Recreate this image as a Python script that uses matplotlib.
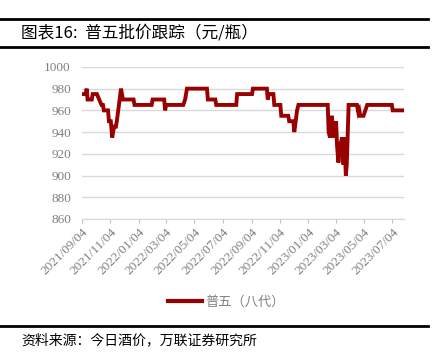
import pandas as pd
import matplotlib.pyplot as plt
import matplotlib.dates as mdates
from matplotlib.lines import Line2D

plt.rcParams['font.family'] = ['Noto Sans CJK SC', 'DejaVu Sans']

# 普五（八代）批价, 元/瓶
dates = ['2021-09-04', '2021-09-12', '2021-09-14', '2021-09-16', '2021-09-25', '2021-09-27',
         '2021-10-06', '2021-10-11', '2021-10-16', '2021-10-19', '2021-10-21', '2021-10-30',
         '2021-11-01', '2021-11-05', '2021-11-08', '2021-11-12', '2021-11-16', '2021-11-18',
         '2021-11-21', '2021-11-27', '2021-12-01', '2021-12-24', '2021-12-26', '2022-02-01',
         '2022-02-03', '2022-02-28', '2022-03-02', '2022-03-04', '2022-04-10', '2022-04-14',
         '2022-04-18', '2022-05-31', '2022-06-02', '2022-06-18', '2022-06-20', '2022-08-02',
         '2022-08-04', '2022-09-05', '2022-09-07', '2022-10-07', '2022-10-09', '2022-10-11',
         '2022-10-21', '2022-10-23', '2022-11-05', '2022-11-07', '2022-11-22', '2022-11-24',
         '2022-12-03', '2022-12-05', '2022-12-11', '2022-12-14', '2023-02-15', '2023-02-17',
         '2023-02-20', '2023-02-24', '2023-02-27', '2023-03-03', '2023-03-05', '2023-03-07',
         '2023-03-10', '2023-03-14', '2023-03-18', '2023-03-21', '2023-03-23', '2023-03-26',
         '2023-03-28', '2023-04-01', '2023-04-19', '2023-04-22', '2023-04-24', '2023-04-26',
         '2023-05-03', '2023-05-07', '2023-05-11', '2023-07-03', '2023-07-05', '2023-07-30']
prices = [975, 975, 980, 970, 970, 975,
          975, 970, 965, 965, 960, 960,
          950, 950, 935, 945, 945, 950,
          960, 980, 970, 970, 965, 965,
          970, 970, 960, 965, 965, 970,
          980, 980, 970, 970, 965, 965,
          975, 975, 980, 980, 970, 975,
          975, 965, 965, 955, 955, 950,
          950, 940, 960, 965, 965, 940,
          935, 955, 935, 945, 950, 928,
          912, 928, 935, 910, 935, 900,
          910, 965, 965, 958, 960, 955,
          955, 960, 965, 965, 960, 960]

tick_dates = ['2021-09-04', '2021-11-04', '2022-01-04', '2022-03-04', '2022-05-04', '2022-07-04',
              '2022-09-04', '2022-11-04', '2023-01-04', '2023-03-04', '2023-05-04', '2023-07-04']

df = pd.DataFrame({'date': pd.to_datetime(dates), 'price': prices})
ticks = pd.to_datetime(tick_dates)

fig = plt.figure(figsize=(4.35, 3.56), dpi=100)
ax = fig.add_axes([0.1885, 0.385, 0.74, 0.427])

ax.plot(df['date'], df['price'], color='#990000', linewidth=2.8, solid_joinstyle='miter')

ax.set_ylim(860, 1000)
ax.set_yticks(range(860, 1001, 20))
ax.set_xlim(pd.Timestamp('2021-09-04'), pd.Timestamp('2023-07-29'))
ax.set_xticks(ticks)
ax.xaxis.set_major_formatter(mdates.DateFormatter('%Y/%m/%d'))

ax.grid(axis='y', color='#d9d9d9', linewidth=1)
ax.set_axisbelow(True)
for s in ['top', 'right', 'left']:
    ax.spines[s].set_visible(False)
ax.spines['bottom'].set_color('#d9d9d9')
ax.tick_params(axis='y', length=0, pad=8, labelsize=9.5, labelcolor='#808080')
ax.tick_params(axis='x', length=3, color='#bfbfbf', labelsize=9.5, labelcolor='#808080', pad=2)
for lab in ax.get_yticklabels():
    lab.set_family('Liberation Serif')
for lab in ax.get_xticklabels():
    lab.set_family('Liberation Serif')
    lab.set_rotation(45)
    lab.set_ha('right')
    lab.set_rotation_mode('anchor')

handle = Line2D([], [], color='#990000', linewidth=3)
fig.legend([handle], ['普五（八代）'], loc='center', bbox_to_anchor=(0.52, 0.152),
           frameon=False, fontsize=9.5, labelcolor='#808080', handlelength=2.6, handletextpad=0.2)

# header / footer rules and texts
for y in [1 - 19 / 356, 1 - 47 / 356, 1 - 326 / 356]:
    fig.add_artist(Line2D([0, 0.985], [y, y], color='black', linewidth=2.0, transform=fig.transFigure))
fig.text(0.048, 1 - 33 / 356, '图表16:  普五批价跟踪（元/瓶）', fontsize=12, va='center', ha='left')
fig.text(0.05, 1 - 340 / 356, '资料来源：今日酒价，万联证券研究所', fontsize=10, va='center', ha='left',
         style='italic')

fig.savefig('out.png', dpi=100)
